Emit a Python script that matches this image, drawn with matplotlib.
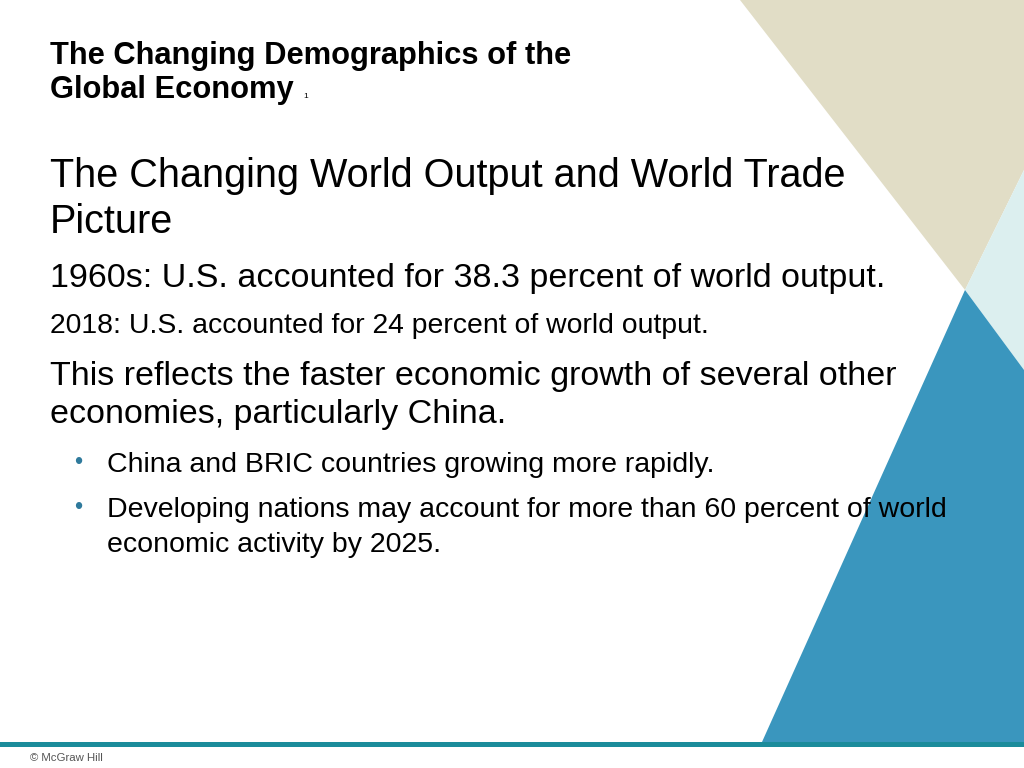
import matplotlib
matplotlib.use('Agg')
import matplotlib.pyplot as plt
from matplotlib.patches import Polygon, Rectangle

plt.rcParams['font.family'] = ['Liberation Sans', 'DejaVu Sans']

W, H = 1024, 768
title_lines = ['The Changing Demographics of the', 'Global Economy']
heading = ['The Changing World Output and World Trade', 'Picture']
line_1960 = '1960s: U.S. accounted for 38.3 percent of world output.'
line_2018 = '2018: U.S. accounted for 24 percent of world output.'
reflects = ['This reflects the faster economic growth of several other',
            'economies, particularly China.']
bullets = [['China and BRIC countries growing more rapidly.'],
           ['Developing nations may account for more than 60 percent of world',
            'economic activity by 2025.']]

fig = plt.figure(figsize=(W / 100, H / 100), dpi=100)
ax = fig.add_axes([0, 0, 1, 1])
ax.set_xlim(0, W)
ax.set_ylim(H, 0)
ax.axis('off')

# background shapes
ax.add_patch(Polygon([(740, 0), (1024, 0), (1024, 170), (965, 290)], color='#e1ddc6', lw=0))
ax.add_patch(Polygon([(965, 290), (1024, 170), (1024, 370)], color='#dcefef', lw=0))
ax.add_patch(Polygon([(965, 290), (1024, 370), (1024, 742), (762, 742)], color='#3a96be', lw=0))
ax.add_patch(Rectangle((0, 742), W, 5, color='#1b8c9b', lw=0))

ax.text(50, 56, title_lines[0], fontsize=22.2, fontweight='bold', va='center')
ax.text(50, 90, title_lines[1], fontsize=22.2, fontweight='bold', va='center')
ax.text(303, 96, '1', fontsize=6, va='center')

ax.text(50, 176, heading[0], fontsize=28.5, va='center')
ax.text(50, 222, heading[1], fontsize=28.5, va='center')
ax.text(50, 278, line_1960, fontsize=24.5, va='center')
ax.text(50, 326, line_2018, fontsize=20.4, va='center')
ax.text(50, 376, reflects[0], fontsize=24.5, va='center')
ax.text(50, 414, reflects[1], fontsize=24.5, va='center')

y = 465
for b in bullets:
    ax.text(74, y - 2, '•', fontsize=17, color='#2f7a9c', va='center')
    for ln in b:
        ax.text(107, y, ln, fontsize=20.5, va='center')
        y += 35
    y += 10

ax.text(30, 758, '© McGraw Hill', fontsize=8.2, color='#555555', va='center')

fig.savefig('out.png', dpi=100)
